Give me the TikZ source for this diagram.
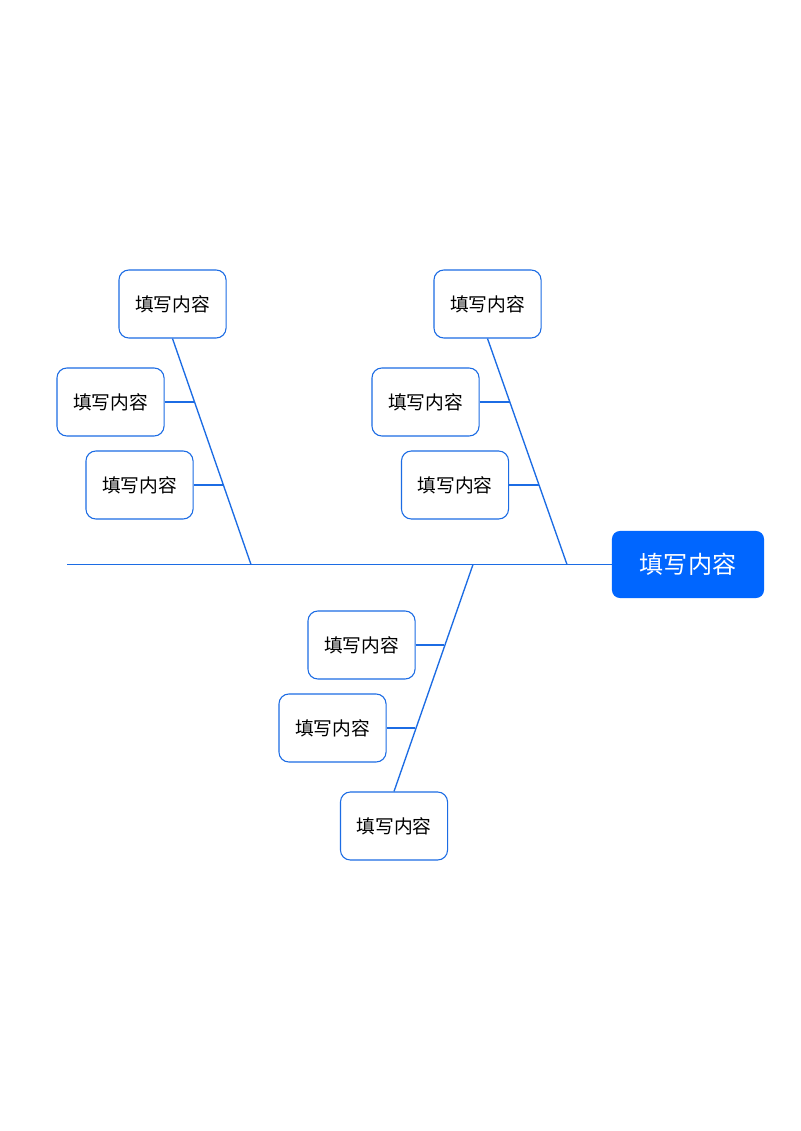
\documentclass[tikz,border=0pt]{standalone}
\usepackage{fontspec}
\newfontfamily\cjk{Noto Sans CJK SC}
\usepackage{xcolor}
\definecolor{mainblue}{RGB}{0, 102, 255}
\definecolor{lineblue}{RGB}{28, 108, 228}
\usetikzlibrary{positioning,calc}

\begin{document}
\begin{tikzpicture}[
  x=0.02625cm, y=-0.02625cm,
  causebox/.style={draw=lineblue, fill=white, rounded corners=0.26cm, line width=0.8pt, minimum width=2.81cm, minimum height=1.785cm, inner sep=0pt, font=\cjk\fontsize{14}{16}\selectfont, text=black},
  headbox/.style={fill=mainblue, rounded corners=0.21cm, minimum width=3.99cm, minimum height=1.76cm, inner sep=0pt, font=\cjk\fontsize{18}{21}\selectfont, text=white},
  bone/.style={draw=lineblue, line width=1pt}
]
\useasboundingbox[fill=white] (0,0) rectangle (800,1131);

% head and spine
\node[headbox] (head) at (688,564.5) {填写内容};
\coordinate (tail) at (67,564.5);
\coordinate (j1) at (251,564.5);
\coordinate (j2) at (567,564.5);
\coordinate (j3) at (473,564.5);

% upper left
\node[causebox] (a1) at (172.5,304) {填写内容};
\node[causebox] (a2) at (110.5,402) {填写内容};
\node[causebox] (a3) at (139.5,485) {填写内容};
\coordinate (a2b) at (194,402);
\coordinate (a3b) at (223,485);

% upper right
\node[causebox] (b1) at (487.5,304) {填写内容};
\node[causebox] (b2) at (425.5,402) {填写内容};
\node[causebox] (b3) at (455,485) {填写内容};
\coordinate (b2b) at (510,402);
\coordinate (b3b) at (539,485);

% lower
\node[causebox] (c1) at (361.5,645) {填写内容};
\node[causebox] (c2) at (332.5,728) {填写内容};
\node[causebox] (c3) at (394,826) {填写内容};
\coordinate (c1b) at (444,645);
\coordinate (c2b) at (415,728);

\draw[bone] (tail) -- (head.west);
\draw[bone] (a1.south) -- (j1);
\draw[bone] (b1.south) -- (j2);
\draw[bone] (c3.north) -- (j3);
\draw[bone] (a2.east) -- (a2b);
\draw[bone] (a3.east) -- (a3b);
\draw[bone] (b2.east) -- (b2b);
\draw[bone] (b3.east) -- (b3b);
\draw[bone] (c1.east) -- (c1b);
\draw[bone] (c2.east) -- (c2b);
\end{tikzpicture}
\end{document}
